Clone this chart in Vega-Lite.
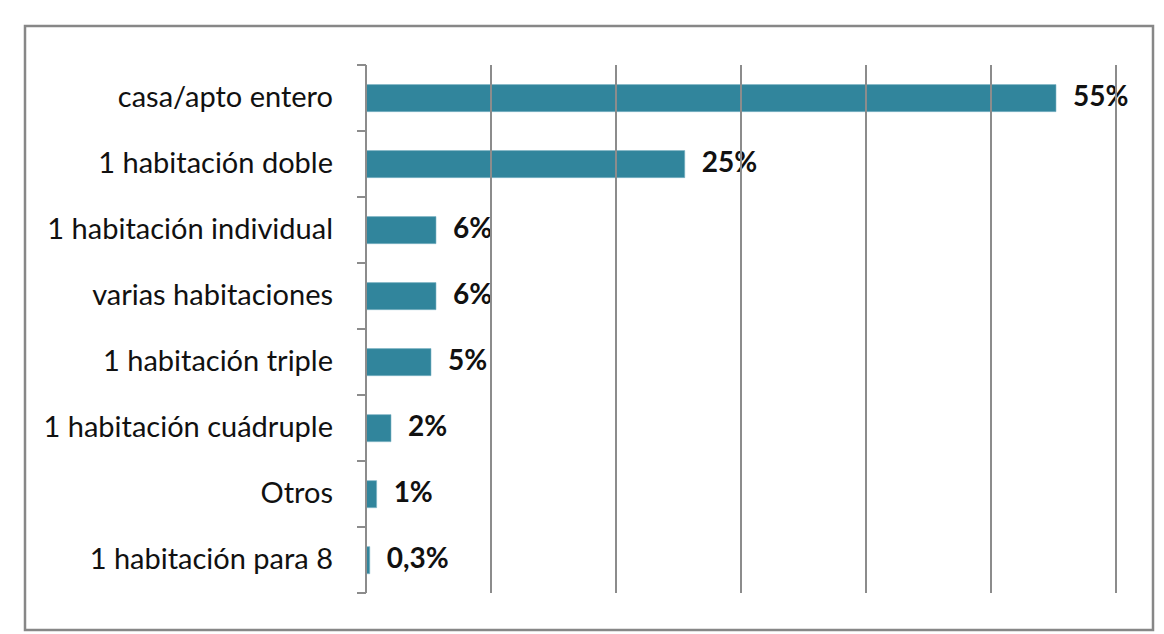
{
  "$schema": "https://vega.github.io/schema/vega-lite/v6.json",
  "autosize": {"type": "fit", "contains": "padding"},
  "width": 1164,
  "height": 634,
  "padding": {"left": 25, "top": 26, "right": 11, "bottom": 4},
  "background": "#ffffff",
  "config": {
    "view": {"stroke": "#878787", "strokeWidth": 2.5, "fill": "#ffffff"},
    "text": {"font": "Lato"}
  },
  "resolve": {"scale": {"y": "independent"}},
  "layer": [
    {
      "data": {
        "values": [
          {"categoria": "casa/apto entero", "valor": 55.2, "etiqueta": "55%"},
          {"categoria": "1 habitación doble", "valor": 25.5, "etiqueta": "25%"},
          {"categoria": "1 habitación individual", "valor": 5.6, "etiqueta": "6%"},
          {"categoria": "varias habitaciones", "valor": 5.6, "etiqueta": "6%"},
          {"categoria": "1 habitación triple", "valor": 5.2, "etiqueta": "5%"},
          {"categoria": "1 habitación cuádruple", "valor": 2.0, "etiqueta": "2%"},
          {"categoria": "Otros", "valor": 0.85, "etiqueta": "1%"},
          {"categoria": "1 habitación para 8", "valor": 0.3, "etiqueta": "0,3%"}
        ]
      },
      "encoding": {
        "y": {
          "field": "categoria",
          "type": "nominal",
          "sort": null,
          "axis": null,
          "scale": {"paddingInner": 0.59, "paddingOuter": 0.87, "align": 0.51}
        }
      },
      "layer": [
        {
          "mark": {"type": "bar", "color": "#31859c", "stroke": "#7fb6c6", "strokeWidth": 0.6},
          "encoding": {
            "x": {"field": "valor", "type": "quantitative", "axis": null,
                  "scale": {"domain": [-27.28, 62.96], "nice": false, "zero": false}}
          }
        },
        {
          "mark": {"type": "text", "align": "right", "baseline": "middle", "fontSize": 29, "color": "#111111", "font": "Lato"},
          "encoding": {
            "x": {"datum": -2.64, "type": "quantitative"},
            "text": {"field": "categoria"}
          }
        },
        {
          "mark": {"type": "text", "align": "left", "baseline": "middle", "dx": 17, "fontSize": 28, "fontWeight": "bold", "color": "#111111", "font": "Lato"},
          "encoding": {
            "x": {"field": "valor", "type": "quantitative"},
            "text": {"field": "etiqueta"}
          }
        }
      ]
    },
    {
      "data": {"values": [{"g": 0}, {"g": 10}, {"g": 20}, {"g": 30}, {"g": 40}, {"g": 50}, {"g": 60}]},
      "mark": {"type": "rule", "color": "#8c8c8c", "strokeWidth": 2},
      "encoding": {
        "x": {"field": "g", "type": "quantitative"},
        "y": {"datum": 0, "type": "quantitative", "axis": null,
              "scale": {"domain": [-0.5909, 8.5606], "reverse": true, "nice": false, "zero": false}},
        "y2": {"datum": 8}
      }
    },
    {
      "data": {"values": [{"k": 0}, {"k": 1}, {"k": 2}, {"k": 3}, {"k": 4}, {"k": 5}, {"k": 6}, {"k": 7}, {"k": 8}]},
      "mark": {"type": "rule", "color": "#8c8c8c", "strokeWidth": 2},
      "encoding": {
        "x": {"datum": -0.72, "type": "quantitative"},
        "x2": {"datum": 0},
        "y": {"field": "k", "type": "quantitative", "axis": null,
              "scale": {"domain": [-0.5909, 8.5606], "reverse": true, "nice": false, "zero": false}}
      }
    }
  ]
}
